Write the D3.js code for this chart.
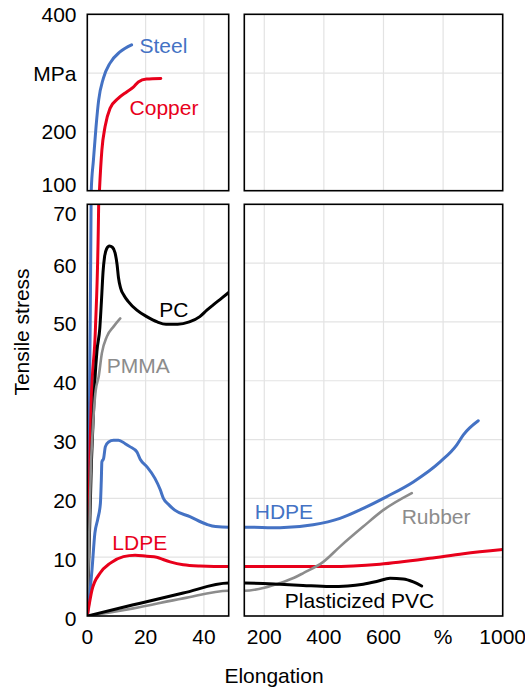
<!DOCTYPE html>
<html>
<head>
<meta charset="utf-8">
<script src="https://cdn.jsdelivr.net/npm/d3@7"></script>
<style>
  html, body { margin: 0; padding: 0; background: #fff; }
  svg { display: block; font-family: "Liberation Sans", Arial, Helvetica, sans-serif; }
</style>
</head>
<body>
<svg id="chart" width="525" height="688"></svg>
<script>
// Stress–strain curves: elongation (%) vs tensile stress (MPa)
const steel = [[0,0],[0.6,26],[0.9,45],[1.3,70],[1.35,100],[2.1,152],[3.0,209],[3.9,254],[5.5,291],[7.8,317],[11.2,336],[15.2,348]];
const copper = [[0,0],[1.0,30],[1.4,37],[2.8,49],[3.9,70],[4.2,103],[5.0,169],[6.1,209],[7.8,240],[10.6,257],[13.5,268],[15.8,276],[17.5,285],[20.3,290],[25.2,291]];
const pc = [[0,0],[1.4,26],[1.9,32],[2.6,40],[3.3,45],[4.3,49],[4.9,54],[5.4,58.5],[5.9,61],[6.6,62.4],[7.6,62.9],[8.6,62.7],[9.5,61.8],[10.2,59.8],[10.7,57.5],[11.4,55.8],[12.6,54.5],[14,53.5],[17,52],[20.4,50.9],[24,50],[27,49.6],[31,49.6],[35,50],[38.6,50.9],[41,52],[43.2,52.9],[46,54],[48.5,55]];
const pmma = [[0,0],[1.2,25],[1.9,32],[2.6,37],[2.9,38.4],[3.9,40.7],[5.0,44.7],[6.7,47.5],[9.0,49.2],[11.3,50.6]];
const hdpe = [[0,0],[0.9,3.9],[1.6,7.8],[2.6,14.1],[3.6,16.5],[4.5,19.2],[4.8,23],[5.0,26.2],[5.6,26.8],[6.2,28.8],[7.3,29.6],[9,29.9],[10.7,29.9],[13,29.3],[14.6,28.8],[17,27.9],[18.2,26.6],[20.4,25.4],[23.2,23.4],[25,21.5],[26.1,20],[28,18.9],[30,18],[35.2,16.9],[40.9,15.6],[44,15.2],[48.5,15.1],
              [133,15.1],[253,15.0],[364,15.5],[454,16.6],[532,18.3],[611,20.3],[700,22.8],[790,26.2],[846,29.1],[868,30.8],[918,33.2]];
const ldpe = [[0,0],[1.6,4.4],[4.4,7.3],[7.9,9],[12.4,10.1],[16.4,10.35],[20.4,10.15],[23.8,10],[26,9.6],[28.4,9.2],[32.9,8.7],[38.6,8.5],[48.5,8.4],
              [133,8.4],[420,8.4],[588,8.8],[756,9.8],[868,10.6],[1000,11.3]];
const rubber = [[0,0],[15.8,1.3],[32.9,3.0],[48.5,4.3],
                [133,4.3],[200,4.8],[253,5.6],[300,6.5],[331,7.3],[398,9.2],[454,11.8],[532,15.2],[599,18],[695,20.9]];
const pvc = [[0,0],[15.8,1.9],[32.9,3.9],[48.5,5.6],
             [133,5.6],[253,5.4],[330,5.2],[420,5.0],[480,5.1],[532,5.4],[580,5.9],[622,6.4],[666,6.3],[700,5.8],[728,5.1]];

const seriesNames = ["Steel","Copper","PC","PMMA","HDPE","LDPE","Rubber","Plasticized PVC"];
const seriesData = [steel, copper, pc, pmma, hdpe, ldpe, rubber, pvc];

// Axis ticks
const xLeftTicks = [0, 20, 40];
const xRightTicks = [200, 400, 600, 800, 1000];
const xRightLabels = ["200", "400", "600", "%", "1000"];
const yTopTicks = [400, 300, 200, 100];
const yTopLabels = ["400", "MPa", "200", "100"];
const yBottomTicks = [70, 60, 50, 40, 30, 20, 10, 0];

const blue = "#4472c4", red = "#e8001b", gray = "#8c8c8c", black = "#000";
const styles = {
  "Steel": {color: blue, width: 3},
  "Copper": {color: red, width: 3},
  "PC": {color: black, width: 3},
  "PMMA": {color: gray, width: 2.6},
  "HDPE": {color: blue, width: 3},
  "LDPE": {color: red, width: 3},
  "Rubber": {color: gray, width: 2.6},
  "Plasticized PVC": {color: black, width: 3}
};
// label anchors in data units: [panel, x, y]
const labelAnchors = {
  "Steel": ["top", 17.9, 335],
  "Copper": ["top", 14.5, 228],
  "PC": ["bottom", 24.7, 50.9],
  "PMMA": ["bottom", 6.7, 41.3],
  "LDPE": ["bottom", 8.6, 11.2],
  "HDPE": ["bottomR", 168, 16.5],
  "Rubber": ["bottomR", 661, 15.6],
  "Plasticized PVC": ["bottomR", 269, 1.3]
};

const svg = d3.select("#chart");
const fontSize = 21;

const xL = d3.scaleLinear().domain([0, 48.5]).range([87.3, 228.7]);
const xR = d3.scaleLinear().domain([133, 1000]).range([244.3, 502.7]);
const yT = d3.scaleLinear().domain([100, 400]).range([190.7, 14.3]);
const yB = d3.scaleLinear().domain([0, 70]).range([616, 204.3]);

const panels = [
  {id: "tl", x: xL, y: yT, xg: [20, 40], yg: [200, 300]},
  {id: "tr", x: xR, y: yT, xg: [200, 400, 600, 800], yg: [200, 300]},
  {id: "bl", x: xL, y: yB, xg: [20, 40], yg: [10, 20, 30, 40, 50, 60]},
  {id: "br", x: xR, y: yB, xg: [200, 400, 600, 800], yg: [10, 20, 30, 40, 50, 60]}
];

const defs = svg.append("defs");

panels.forEach(p => {
  const [x0, x1] = p.x.range();
  const [y0, y1] = p.y.range(); // y0 bottom, y1 top
  defs.append("clipPath").attr("id", "clip-" + p.id)
    .append("rect").attr("x", x0).attr("y", y1).attr("width", x1 - x0).attr("height", y0 - y1);

  const g = svg.append("g");
  // grid
  g.selectAll("line.vg").data(p.xg).join("line")
    .attr("x1", d => p.x(d)).attr("x2", d => p.x(d))
    .attr("y1", y1).attr("y2", y0)
    .attr("stroke", "#e3e3e3").attr("stroke-width", 1.2);
  g.selectAll("line.hg").data(p.yg).join("line")
    .attr("x1", x0).attr("x2", x1)
    .attr("y1", d => p.y(d)).attr("y2", d => p.y(d))
    .attr("stroke", "#e3e3e3").attr("stroke-width", 1.2);

  // curves
  const line = d3.line().x(d => p.x(d[0])).y(d => p.y(d[1])).curve(d3.curveMonotoneX);
  const cg = g.append("g").attr("clip-path", "url(#clip-" + p.id + ")");
  seriesNames.forEach((name, i) => {
    cg.append("path").datum(seriesData[i])
      .attr("d", line)
      .attr("fill", "none")
      .attr("stroke", styles[name].color)
      .attr("stroke-width", styles[name].width)
      .attr("stroke-linejoin", "round")
      .attr("stroke-linecap", "round");
  });

  // frame
  g.append("rect").attr("x", x0).attr("y", y1).attr("width", x1 - x0).attr("height", y0 - y1)
    .attr("fill", "none").attr("stroke", "#000").attr("stroke-width", 1.6);
});

// y tick labels
const yLabelX = 76.5;
svg.append("g").selectAll("text").data(yTopTicks).join("text")
  .attr("x", yLabelX)
  .attr("y", d => yT(d) + (d === 100 ? -6 : 0))
  .attr("dy", "0.36em")
  .attr("text-anchor", "end")
  .attr("font-size", fontSize)
  .text((d, i) => yTopLabels[i]);
svg.append("g").selectAll("text").data(yBottomTicks).join("text")
  .attr("x", yLabelX)
  .attr("y", d => yB(d) + (d === 70 ? 9 : 2))
  .attr("dy", "0.36em")
  .attr("text-anchor", "end")
  .attr("font-size", fontSize)
  .text(d => d);

// x tick labels
const xLabelY = 643.5;
svg.append("g").selectAll("text").data(xLeftTicks).join("text")
  .attr("x", d => xL(d)).attr("y", xLabelY)
  .attr("text-anchor", "middle").attr("font-size", fontSize)
  .text(d => d);
svg.append("g").selectAll("text").data(xRightTicks).join("text")
  .attr("x", d => xR(d)).attr("y", xLabelY)
  .attr("text-anchor", "middle").attr("font-size", fontSize)
  .text((d, i) => xRightLabels[i]);

// axis titles
svg.append("text")
  .attr("transform", "translate(29,332) rotate(-90)")
  .attr("text-anchor", "middle").attr("font-size", fontSize)
  .text("Tensile stress");
svg.append("text")
  .attr("x", 274).attr("y", 683)
  .attr("text-anchor", "middle").attr("font-size", fontSize)
  .text("Elongation");

// series labels
const panelScales = {top: [xL, yT], bottom: [xL, yB], bottomR: [xR, yB]};
svg.append("g").selectAll("text").data(seriesNames).join("text")
  .attr("x", d => panelScales[labelAnchors[d][0]][0](labelAnchors[d][1]))
  .attr("y", d => panelScales[labelAnchors[d][0]][1](labelAnchors[d][2]))
  .attr("font-size", fontSize)
  .attr("fill", d => styles[d].color)
  .text(d => d);
</script>
</body>
</html>
